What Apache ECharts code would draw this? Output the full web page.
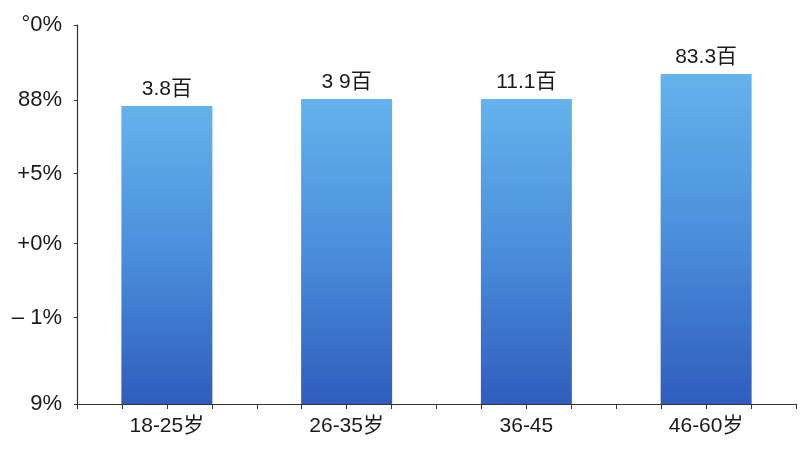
<!DOCTYPE html>
<html>
<head>
<meta charset="utf-8">
<script src="https://cdn.jsdelivr.net/npm/echarts@6/dist/echarts.min.js"></script>
<style>
html,body{margin:0;padding:0;background:#fff;}
#c{width:800px;height:450px;}
</style>
</head>
<body>
<div id="c"></div>
<script>
const categories = ['18-25岁', '26-35岁', '36-45', '46-60岁'];
const values = [78.6, 80.5, 80.5, 87.1];
const barLabels = ['3.8百', '3 9百', '11.1百', '83.3百'];
const tickValues = [0, 22.8, 42.3, 60.8, 80.2, 100];
const tickLabels = ['9%', '– 1%', '+0%', '+5%', '88%', '°0%'];
const ticksPerCategory = 4;

const fontFam = "'Liberation Sans', Arial, 'Noto Sans CJK SC', sans-serif";
const slotCount = categories.length * ticksPerCategory;
const half = ticksPerCategory / 2;
const chart = echarts.init(document.getElementById('c'));
chart.setOption({
  animation: false,
  backgroundColor: '#ffffff',
  grid: { left: 77, right: 4, top: 25, bottom: 46, containLabel: false },
  xAxis: {
    type: 'value',
    min: 0,
    max: slotCount,
    interval: 1,
    splitLine: { show: false },
    axisLine: { show: true, lineStyle: { color: '#333', width: 1.2 } },
    axisTick: { show: true, length: 5, lineStyle: { color: '#333' } },
    axisLabel: {
      color: '#1a1a1a', fontSize: 21, fontFamily: fontFam, margin: 12,
      showMinLabel: true, showMaxLabel: true, hideOverlap: false,
      formatter: function (v) {
        const k = v - half;
        if (k >= 0 && k % ticksPerCategory === 0) {
          return categories[k / ticksPerCategory] || '';
        }
        return '';
      }
    }
  },
  yAxis: {
    type: 'value',
    min: 0,
    max: 100,
    splitLine: { show: false },
    axisLine: { show: true, lineStyle: { color: '#333', width: 1.2 } },
    axisTick: { show: true, length: 3, customValues: tickValues, lineStyle: { color: '#333' } },
    axisLabel: {
      customValues: tickValues,
      color: '#1a1a1a', fontSize: 22, fontFamily: fontFam, margin: 15,
      formatter: function (v) {
        let best = 0;
        for (let i = 0; i < tickValues.length; i++) {
          if (Math.abs(tickValues[i] - v) < Math.abs(tickValues[best] - v)) best = i;
        }
        return tickLabels[best];
      }
    }
  },
  series: [{
    type: 'bar',
    data: values.map(function (v, i) { return [i * ticksPerCategory + half, v]; }),
    barWidth: 91,
    itemStyle: {
      color: new echarts.graphic.LinearGradient(0, 0, 0, 1, [
        { offset: 0, color: '#64b3ec' },
        { offset: 0.5, color: '#4a8edb' },
        { offset: 1, color: '#2f5dbd' }
      ])
    },
    label: {
      show: true,
      position: 'top',
      distance: 6,
      color: '#1a1a1a',
      fontSize: 21,
      fontFamily: fontFam,
      formatter: function (p) { return barLabels[p.dataIndex]; }
    }
  }]
});
</script>
</body>
</html>
